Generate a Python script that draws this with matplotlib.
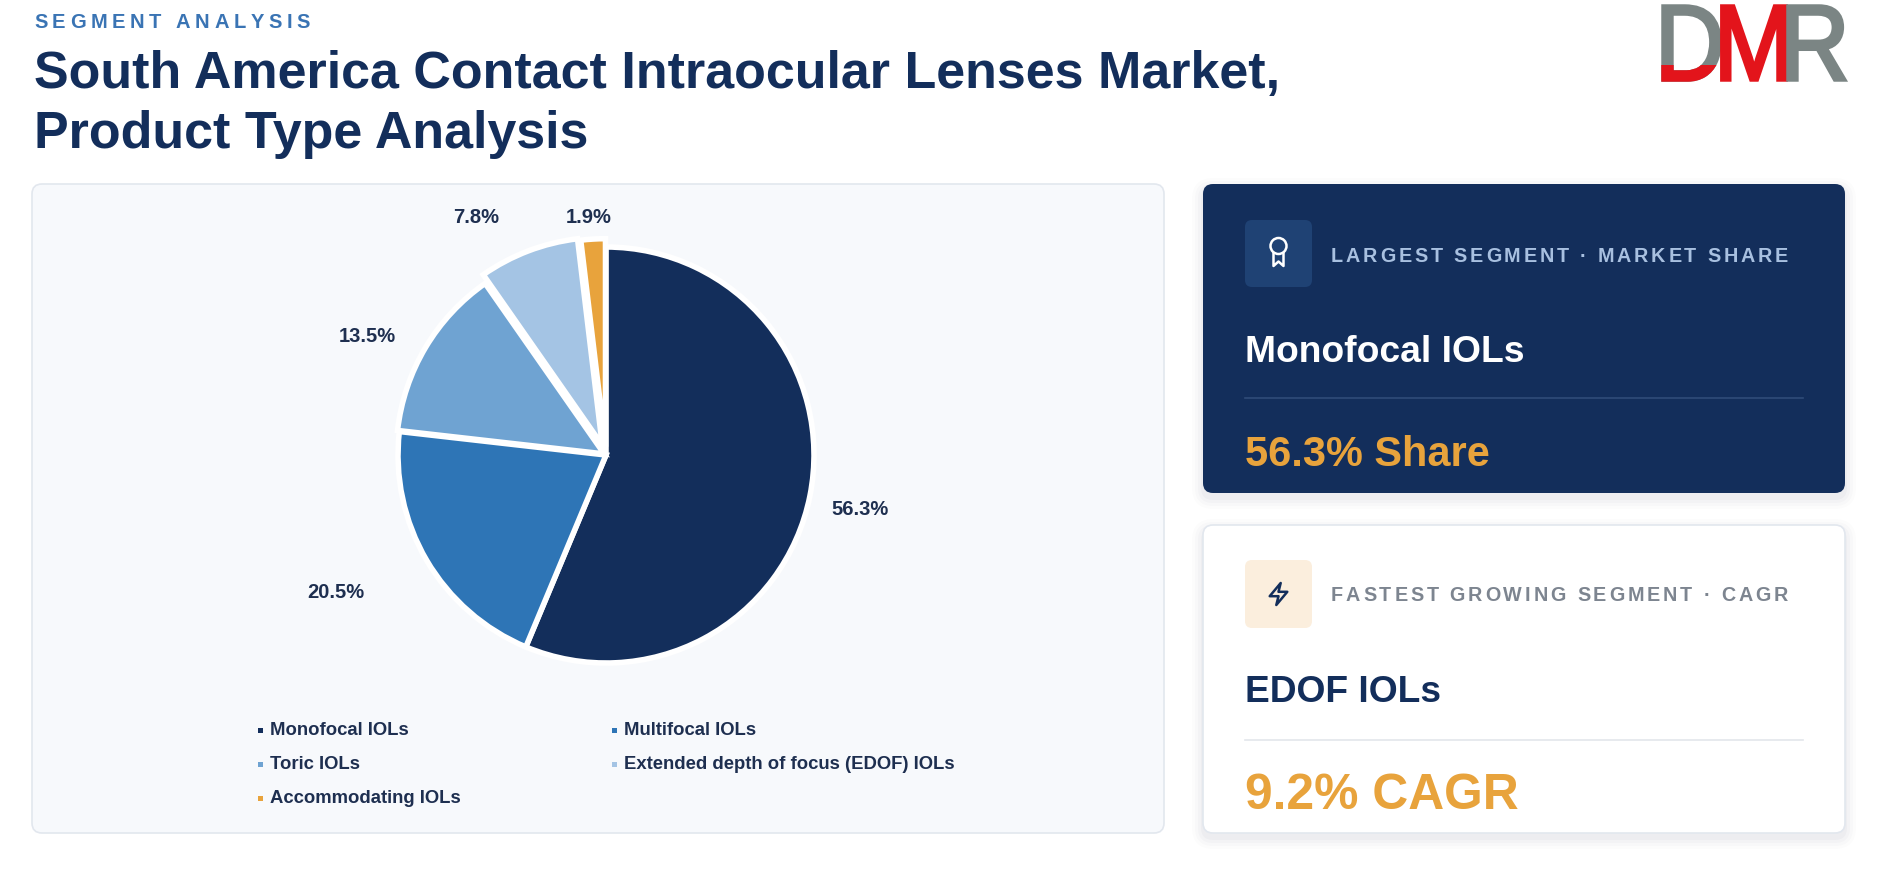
import matplotlib
matplotlib.use("Agg")
import matplotlib.pyplot as plt
import numpy as np
from matplotlib.patches import FancyBboxPatch, Rectangle, Circle, Polygon, PathPatch
from matplotlib.textpath import TextPath, TextToPath
from matplotlib.font_manager import FontProperties
from matplotlib.path import Path

# ---------------- data ----------------
categories = ["Monofocal IOLs", "Multifocal IOLs", "Toric IOLs",
              "Extended depth of focus (EDOF) IOLs", "Accommodating IOLs"]
shares = [56.3, 20.5, 13.5, 7.8, 1.9]
slice_colors = ["#132e5b", "#2e75b6", "#6fa3d2", "#a4c4e4", "#e8a33c"]

kicker = "SEGMENT ANALYSIS"
title_lines = ["South America Contact Intraocular Lenses Market,", "Product Type Analysis"]
largest_header = "LARGEST SEGMENT \u00b7 MARKET SHARE"
largest_name = "Monofocal IOLs"
largest_value = 56.3
fastest_header = "FASTEST GROWING SEGMENT \u00b7 CAGR"
fastest_name = "EDOF IOLs"
fastest_value = 9.2

# ---------------- style / layout ----------------
W, H, DPI = 1884, 871, 100
FONT = "Liberation Sans"
plt.rcParams["font.family"] = [FONT, "DejaVu Sans"]
NAVY = "#132e5b"
ORANGE = "#e8a33c"
EXPLODE = [0, 0, 0.01, 0.05, 0.04]
LABEL_R = [1.25, 1.46, 1.28, 1.30, 1.145]
LABEL_NUDGE = [-0.8, -3.4, 4.4, 7.8, 0.8]

_ttp = TextToPath()


def ink_w(s, size_pt, weight="bold"):
    prop = FontProperties(family=FONT, weight=weight, size=size_pt)
    return _ttp.get_text_width_height_descent(s, prop, ismath=False)[0] * DPI / 72


def fit_pt(s, target_px, weight="bold"):
    return 100 * target_px / ink_w(s, 100, weight)


def adv(ch, size_pt, weight="bold"):
    return ink_w("H" + ch + "H", size_pt, weight) - ink_w("HH", size_pt, weight)


def spaced_text(ax, x, y, s, size_pt, color, target_px, weight="bold"):
    advs = [adv(c, size_pt, weight) for c in s]
    base = sum(advs[:-1]) + ink_w(s[-1], size_pt, weight)
    track = (target_px - base) / (len(s) - 1)
    for c, a in zip(s, advs):
        ax.text(x, y, c, fontsize=size_pt, fontweight=weight, color=color,
                ha="left", va="baseline", family=FONT)
        x += a + track


fig = plt.figure(figsize=(W / DPI, H / DPI), dpi=DPI)
fig.patch.set_facecolor("white")
bg = fig.add_axes([0, 0, 1, 1])
bg.set_xlim(0, W)
bg.set_ylim(H, 0)
bg.axis("off")


def rbox(x, y, w, h, fc, ec="none", lw=1.0, r=10, z=1, alpha=1.0):
    p = FancyBboxPatch((x, y), w, h, boxstyle=f"round,pad=0,rounding_size={r}",
                       fc=fc, ec=ec, lw=lw, zorder=z, alpha=alpha)
    bg.add_patch(p)
    return p


# shadows
for i, a in enumerate([0.025, 0.02, 0.015, 0.01]):
    g = 2 + i * 3
    rbox(1203 - g, 184 - g + 5, 642 + 2 * g, 309 + 2 * g, "#0f2040", r=10 + g, z=0.5, alpha=a)
    rbox(1203 - g, 525 - g + 5, 642 + 2 * g, 308 + 2 * g, "#0f2040", r=10 + g, z=0.5, alpha=a)

# panels
rbox(32, 184, 1132, 649, "#f7f9fc", ec="#e2e7ee", lw=1.2, r=10)
rbox(1203, 184, 642, 309, NAVY, r=10)
rbox(1203, 525, 642, 308, "white", ec="#e2e7ee", lw=1.2, r=10)

# header texts
spaced_text(bg, 34, 28.5, kicker, 14.5, "#3a74b4", 276)
tsize = fit_pt(title_lines[0], 1246)
bg.text(34, 88.5, title_lines[0], fontsize=tsize, fontweight="bold", color=NAVY,
        ha="left", va="baseline")
bg.text(34, 148, title_lines[1], fontsize=tsize, fontweight="bold", color=NAVY,
        ha="left", va="baseline")

# logo
lx0, lx1, ltop, lbase = 1663, 1845, 6, 80
lp = FontProperties(family=FONT, weight="normal")
GRAY, RED = "#7b8584", "#e3141b"
letters = [("D", GRAY), ("M", RED), ("R", GRAY)]
paths = [TextPath((0, 0), c, size=100, prop=lp) for c, _ in letters]
exts = [p.get_extents() for p in paths]
gap = 2.0
tot = sum(e.width for e in exts) + gap * 2
sx = (lx1 - lx0) / tot
cap = max(e.y1 for e in exts)
sy = (lbase - ltop) / cap
cx = lx0
for k, ((c, col), p, e) in enumerate(zip(letters, paths, exts)):
    v = p.vertices.copy()
    v[:, 0] = cx + (v[:, 0] - e.x0) * sx
    v[:, 1] = lbase - v[:, 1] * sy
    bg.add_patch(PathPatch(Path(v, p.codes), fc=col, ec=col, lw=2.5, zorder=3))
    if k == 0:
        # red lower stroke of the D
        red = PathPatch(Path(v, p.codes), fc=RED, ec=RED, lw=2.5, zorder=3.1)
        bg.add_patch(red)
        clip = Rectangle((cx - 3, lbase - (lbase - ltop) * 0.2), e.width * sx + 6, 30,
                         transform=bg.transData)
        red.set_clip_path(clip)
    cx += (e.width + gap) * sx

# card 1
rbox(1245, 220, 67, 67, "#1f4274", r=7, z=2)
bg.add_patch(Circle((1278.5, 246), 8, fill=False, ec="white", lw=1.8, zorder=3))
bg.plot([1273.5, 1273.5, 1278.5, 1283.5, 1283.5], [253, 266, 261.5, 266, 253],
        color="white", lw=1.8, zorder=3, solid_joinstyle="round")
spaced_text(bg, 1331, 262, largest_header, 14.2, "#a8c0e0", 457)
bg.text(1245, 362, largest_name, fontsize=fit_pt(largest_name, 279), fontweight="bold",
        color="white", ha="left", va="baseline")
bg.plot([1245, 1803], [398, 398], color="#2f4c79", lw=1.2)
s1 = f"{largest_value:.1f}% Share"
bg.text(1245, 466, s1, fontsize=fit_pt(s1, 245), fontweight="bold", color=ORANGE,
        ha="left", va="baseline")

# card 2
rbox(1245, 560, 67, 68, "#fbeedd", r=7, z=2)
zap = np.array([(4, 14), (14, 2), (12, 10), (20, 10), (10, 22), (12, 14)], dtype=float)
zc = (1278.5, 594)
zpts = np.column_stack([zc[0] + (zap[:, 0] - 12) * 1.1, zc[1] + (zap[:, 1] - 12) * 1.1])
bg.add_patch(Polygon(zpts, closed=True, fill=False, ec=NAVY, lw=1.8, joinstyle="round", zorder=3))
spaced_text(bg, 1331, 601, fastest_header, 14.2, "#7d8590", 457)
bg.text(1245, 702, fastest_name, fontsize=fit_pt(fastest_name, 196), fontweight="bold",
        color=NAVY, ha="left", va="baseline")
bg.plot([1245, 1803], [740, 740], color="#e3e6eb", lw=1.2)
s2 = f"{fastest_value:.1f}% CAGR"
bg.text(1245, 809, s2, fontsize=fit_pt(s2, 274), fontweight="bold", color=ORANGE,
        ha="left", va="baseline")

# legend (row-major, 2 columns)
leg_size = fit_pt("Monofocal IOLs", 139)
col_x = [260, 614]
row_y = [730, 764, 798]
for i, (name, col) in enumerate(zip(categories, slice_colors)):
    r, c = divmod(i, 2)
    x, y = col_x[c], row_y[r]
    bg.add_patch(Rectangle((x - 2.5, y - 2.5), 5.5, 5.5, fc=col, ec="none", zorder=3))
    bg.text(x + 10, y, name, fontsize=leg_size, fontweight="bold", color="#1e2f50",
            ha="left", va="center")

# pie
PCX, PCY, PR = 606, 455, 208
L = 1.7
half = L * PR
pax = fig.add_axes([(PCX - half) / W, (H - PCY - half) / H, 2 * half / W, 2 * half / H])
pax.patch.set_alpha(0)
wedges, _ = pax.pie(shares, colors=slice_colors, startangle=90, counterclock=False,
                    explode=EXPLODE, radius=1.0,
                    wedgeprops=dict(edgecolor="white", linewidth=4.0, joinstyle="miter"))
pax.set_xlim(-L, L)
pax.set_ylim(-L, L)
pax.axis("off")
lab_size = fit_pt("56.3%", 57)
for w, v, lr, nd in zip(wedges, shares, LABEL_R, LABEL_NUDGE):
    mid = np.deg2rad((w.theta1 + w.theta2) / 2 + nd)
    pax.text(lr * np.cos(mid) * PR / PR, lr * np.sin(mid), f"{v:.1f}%", fontsize=lab_size,
             fontweight="bold", color="#1e2f50", ha="center", va="center")

fig.savefig("out.png", dpi=DPI, facecolor="white")
